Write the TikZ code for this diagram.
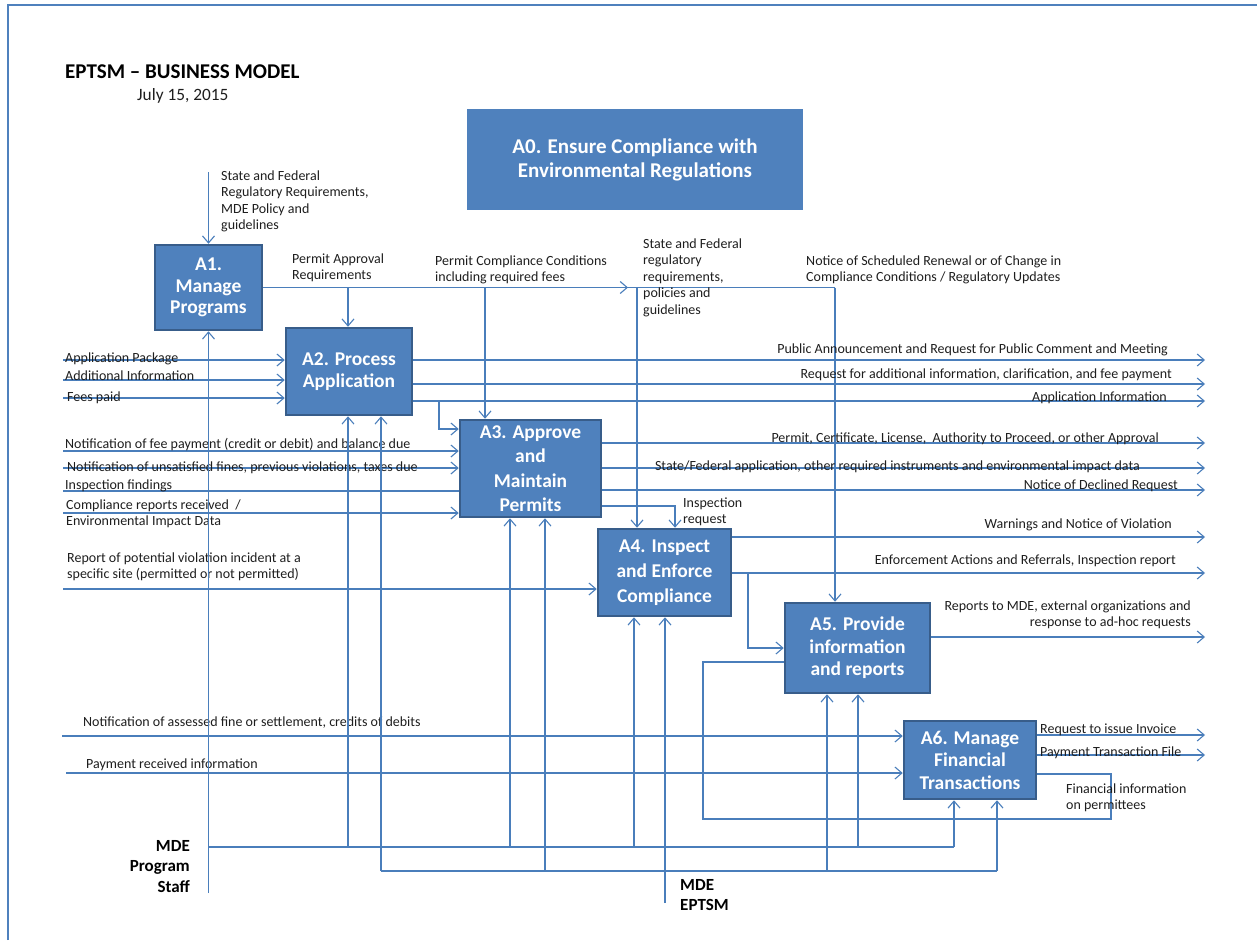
\documentclass[tikz,border=0pt]{standalone}
\usepackage{fontspec}
\setmainfont{Carlito}
\usetikzlibrary{arrows.meta}
\definecolor{boxfill}{HTML}{4F81BD}
\definecolor{boxline}{HTML}{385D8A}
\definecolor{wire}{HTML}{4A7EBB}
\definecolor{ink}{HTML}{1E1E1E}
\begin{document}
\begin{tikzpicture}[x=1pt,y=-1pt,
  proc/.style={draw=boxline, line width=2.5pt, fill=boxfill, text=white,
    font=\fontsize{19.5}{23}\selectfont\bfseries, align=center, inner sep=0pt},
  flow/.style={draw=wire, line width=1.1pt},
  arr/.style={flow, -{Straight Barb[length=7pt,width=12pt]}},
  lab/.style={inner sep=0pt, text=ink, font=\fontsize{14}{16.5}\selectfont},
  labl/.style={lab, anchor=base west},
  labr/.style={lab, anchor=base east},
  labnw/.style={lab, anchor=north west, align=left},
  actor/.style={inner sep=0pt, text=black, font=\fontsize{17}{20.5}\selectfont\bfseries}
]
\useasboundingbox (0,0) rectangle (1257,940);

% page frame
\draw[draw=boxfill, line width=2pt] (8,940) -- (8,5) -- (1257,5);

% heading
\node[anchor=base west, inner sep=0pt, font=\fontsize{21}{24}\selectfont\bfseries] (title) at (65,78) {EPTSM -- BUSINESS MODEL};
\node[anchor=base west, inner sep=0pt, text=ink, font=\fontsize{17.3}{20}\selectfont] (date) at (137,100.5) {July 15, 2015};

% activities
\node[fill=boxfill, text=white, inner sep=0pt, align=center,
  font=\fontsize{21}{24}\selectfont\bfseries, minimum width=336pt, minimum height=101pt] (A0) at (635,159.5)
  {A0. Ensure Compliance with\\Environmental Regulations};
\node[proc, minimum width=107pt, minimum height=85pt, font=\fontsize{19.5}{21.5}\selectfont\bfseries] (A1) at (208.5,287.5) {A1.\\Manage\\Programs};
\node[proc, minimum width=126pt, minimum height=87pt, font=\fontsize{19.5}{22}\selectfont\bfseries] (A2) at (349,371.5) {A2. Process\\Application};
\node[proc, minimum width=141pt, minimum height=97pt, font=\fontsize{19.5}{24.5}\selectfont\bfseries] (A3) at (530.5,468.5) {A3. Approve\\and\\Maintain\\Permits};
\node[proc, minimum width=133pt, minimum height=87pt, font=\fontsize{19.5}{25}\selectfont\bfseries] (A4) at (664.5,572.5) {A4. Inspect\\and Enforce\\Compliance};
\node[proc, minimum width=145pt, minimum height=90pt, font=\fontsize{19.5}{22.5}\selectfont\bfseries] (A5) at (857.5,648) {A5. Provide\\information\\and reports};
\node[proc, minimum width=132pt, minimum height=78pt, font=\fontsize{19.5}{22.5}\selectfont\bfseries] (A6) at (970,760) {A6. Manage\\Financial\\Transactions};

% controls from above
\coordinate (ctlA1) at (208.5,172);
\draw[arr] (ctlA1) -- (A1.north);
\node[labnw] (tA1ctl) at (221,170.5) {State and Federal\\Regulatory Requirements,\\MDE Policy and\\guidelines};

\coordinate (jA5) at (835,287.5);
\coordinate (midtip) at (628,287.5);
\draw[flow] (A1.east) -- (jA5);
\draw[arr] (A1.east) -- (midtip);
\draw[arr] (jA5) -- (jA5 |- A5.north);
\coordinate (bA2) at (348,287.5);
\coordinate (bA3) at (485,287.5);
\coordinate (bA4) at (637,287.5);
\draw[arr] (bA2) -- (bA2 |- A2.north);
\draw[arr] (bA3) -- (bA3 |- A3.north);
\draw[arr] (bA4) -- (bA4 |- A4.north);

\node[labnw] (tPAR) at (292,253.5) {Permit Approval\\Requirements};
\node[labnw] (tPCC) at (435,255.5) {Permit Compliance Conditions\\including required fees};
\node[labnw] (tSFR) at (643,238.5) {State and Federal\\regulatory\\requirements,\\policies and\\guidelines};
\node[labnw] (tNSR) at (806,255.5) {Notice of Scheduled Renewal or of Change in\\Compliance Conditions / Regulatory Updates};

% inputs from the left
\coordinate (inAP) at (63,360);
\coordinate (inAI) at (63,380);
\coordinate (inFP) at (63,398);
\coordinate (inNF) at (63,451);
\coordinate (inNU) at (63,468);
\coordinate (inIF) at (63,491);
\coordinate (inCR) at (63,513);
\coordinate (inRV) at (63,589);
\coordinate (inAF) at (62,736);
\coordinate (inPR) at (66,773);
\draw[arr] (inAP) -- (inAP -| A2.west);
\draw[arr] (inAI) -- (inAI -| A2.west);
\draw[arr] (inFP) -- (inFP -| A2.west);
\draw[arr] (inNF) -- (inNF -| A3.west);
\draw[arr] (inNU) -- (inNU -| A3.west);
\draw[flow] (inIF) -- (inIF -| A3.west);
\draw[arr] (inCR) -- (inCR -| A3.west);
\draw[arr] (inRV) -- (inRV -| A4.west);
\draw[arr] (inAF) -- (inAF -| A6.west);
\draw[arr] (inPR) -- (inPR -| A6.west);

\node[labl] (tAP) at (65,362) {Application Package};
\node[labl] (tAI) at (65,380) {Additional Information};
\node[labl] (tFP) at (67,401) {Fees paid};
\node[labl] (tNF) at (65,448) {Notification of fee payment (credit or debit) and balance due};
\node[labl] (tNU) at (67,471) {Notification of unsatisfied fines, previous violations, taxes due};
\node[labl] (tIF) at (65,489) {Inspection findings};
\node[labnw] (tCR) at (66,499.5) {Compliance reports received~~/\\Environmental Impact Data};
\node[labnw] (tRV) at (67,552.5) {Report of potential violation incident at a\\specific site (permitted or not permitted)};
\node[labl] (tAF) at (83,726) {Notification of assessed fine or settlement, credits of debits};
\node[labl] (tPR) at (86,768) {Payment received information};

% links between activities
\coordinate (k23) at (439,429);
\draw[arr] (A2.east |- 0,401) -| (k23) -- (k23 -| A3.west);
\coordinate (k34) at (675,506);
\draw[arr] (k34 -| A3.east) -- (k34) -- (k34 |- A4.north);
\node[labnw] (tIR) at (683,497.5) {Inspection\\request};
\coordinate (k45) at (748,648);
\draw[arr] (k45 |- 0,573) -- (k45) -- (A5.west);

% outputs to the right
\coordinate (oPA) at (1205,360);
\coordinate (oRA) at (1205,384);
\coordinate (oAI) at (1205,401);
\coordinate (oPC) at (1205,443);
\coordinate (oSF) at (1205,468);
\coordinate (oND) at (1205,490);
\coordinate (oWN) at (1205,537);
\coordinate (oEA) at (1205,573);
\coordinate (oRM) at (1205,637);
\coordinate (oRI) at (1205,735);
\coordinate (oPT) at (1205,755);
\draw[arr] (oPA -| A2.east) -- (oPA);
\draw[arr] (oRA -| A2.east) -- (oRA);
\draw[arr] (oAI -| A2.east) -- (oAI);
\draw[arr] (oPC -| A3.east) -- (oPC);
\draw[arr] (oSF -| A3.east) -- (oSF);
\draw[arr] (oND -| A3.east) -- (oND);
\draw[arr] (oWN -| A4.east) -- (oWN);
\draw[arr] (oEA -| A4.east) -- (oEA);
\draw[arr] (oRM -| A5.east) -- (oRM);
\draw[arr] (oRI -| A6.east) -- (oRI);
\draw[arr] (oPT -| A6.east) -- (oPT);

\node[labr] (tPA) at (1168,353) {Public Announcement and Request for Public Comment and Meeting};
\node[labr] (tRA) at (1172,378) {Request for additional information, clarification, and fee payment};
\node[labr] (tAIo) at (1167,401) {Application Information};
\node[labr] (tPC) at (1159,442) {Permit, Certificate, License,~~Authority to Proceed, or other Approval};
\node[labr] (tSF) at (1140,470) {State/Federal application, other required instruments and environmental impact data};
\node[labr] (tND) at (1178,489) {Notice of Declined Request};
\node[labr] (tWN) at (1172,528) {Warnings and Notice of Violation};
\node[labr] (tEA) at (1176,564) {Enforcement Actions and Referrals, Inspection report};
\node[lab, anchor=north east, align=right] (tRM) at (1191,600.5) {Reports to MDE, external organizations and\\response to ad-hoc requests};
\node[labl] (tRI) at (1040,733) {Request to issue Invoice};
\node[labl] (tPT) at (1040,756) {Payment Transaction File};

% financial information fed back to reporting
\coordinate (fb1) at (1111,774);
\coordinate (fb2) at (703,819);
\coordinate (fb3) at (703,662);
\draw[flow] (fb1 -| A6.east) -- (fb1) |- (fb2) -- (fb3) -- (fb3 -| A5.west);
\node[labnw] (tFI) at (1066,783.5) {Financial information\\on permittees};

% mechanisms: program staff
\coordinate (staff) at (208.5,893);
\draw[arr] (staff) -- (A1.south);
\coordinate (busS) at (208.5,847);
\coordinate (busSend) at (954,847);
\draw[flow] (busS) -- (busSend);
\foreach \xx/\bx in {348/A2, 510/A3, 634/A4, 858/A5, 954/A6}{
  \coordinate (tS\bx) at (\xx,847);
  \draw[arr] (tS\bx) -- (tS\bx |- \bx.south);
}
\node[actor, anchor=north east, align=right] (tStaff) at (190,840) {MDE\\Program\\Staff};

% mechanisms: EPTSM system
\coordinate (eptsm) at (665,903);
\draw[arr] (eptsm) -- (eptsm |- A4.south);
\coordinate (busE) at (381,871);
\coordinate (busEend) at (997,871);
\draw[flow] (busE) -- (busEend);
\foreach \xx/\bx in {381/A2, 545/A3, 827/A5, 997/A6}{
  \coordinate (tE\bx) at (\xx,871);
  \draw[arr] (tE\bx) -- (tE\bx |- \bx.south);
}
\node[actor, anchor=north west, align=left] (tEPTSM) at (680,879) {MDE\\EPTSM};
\end{tikzpicture}
\end{document}
